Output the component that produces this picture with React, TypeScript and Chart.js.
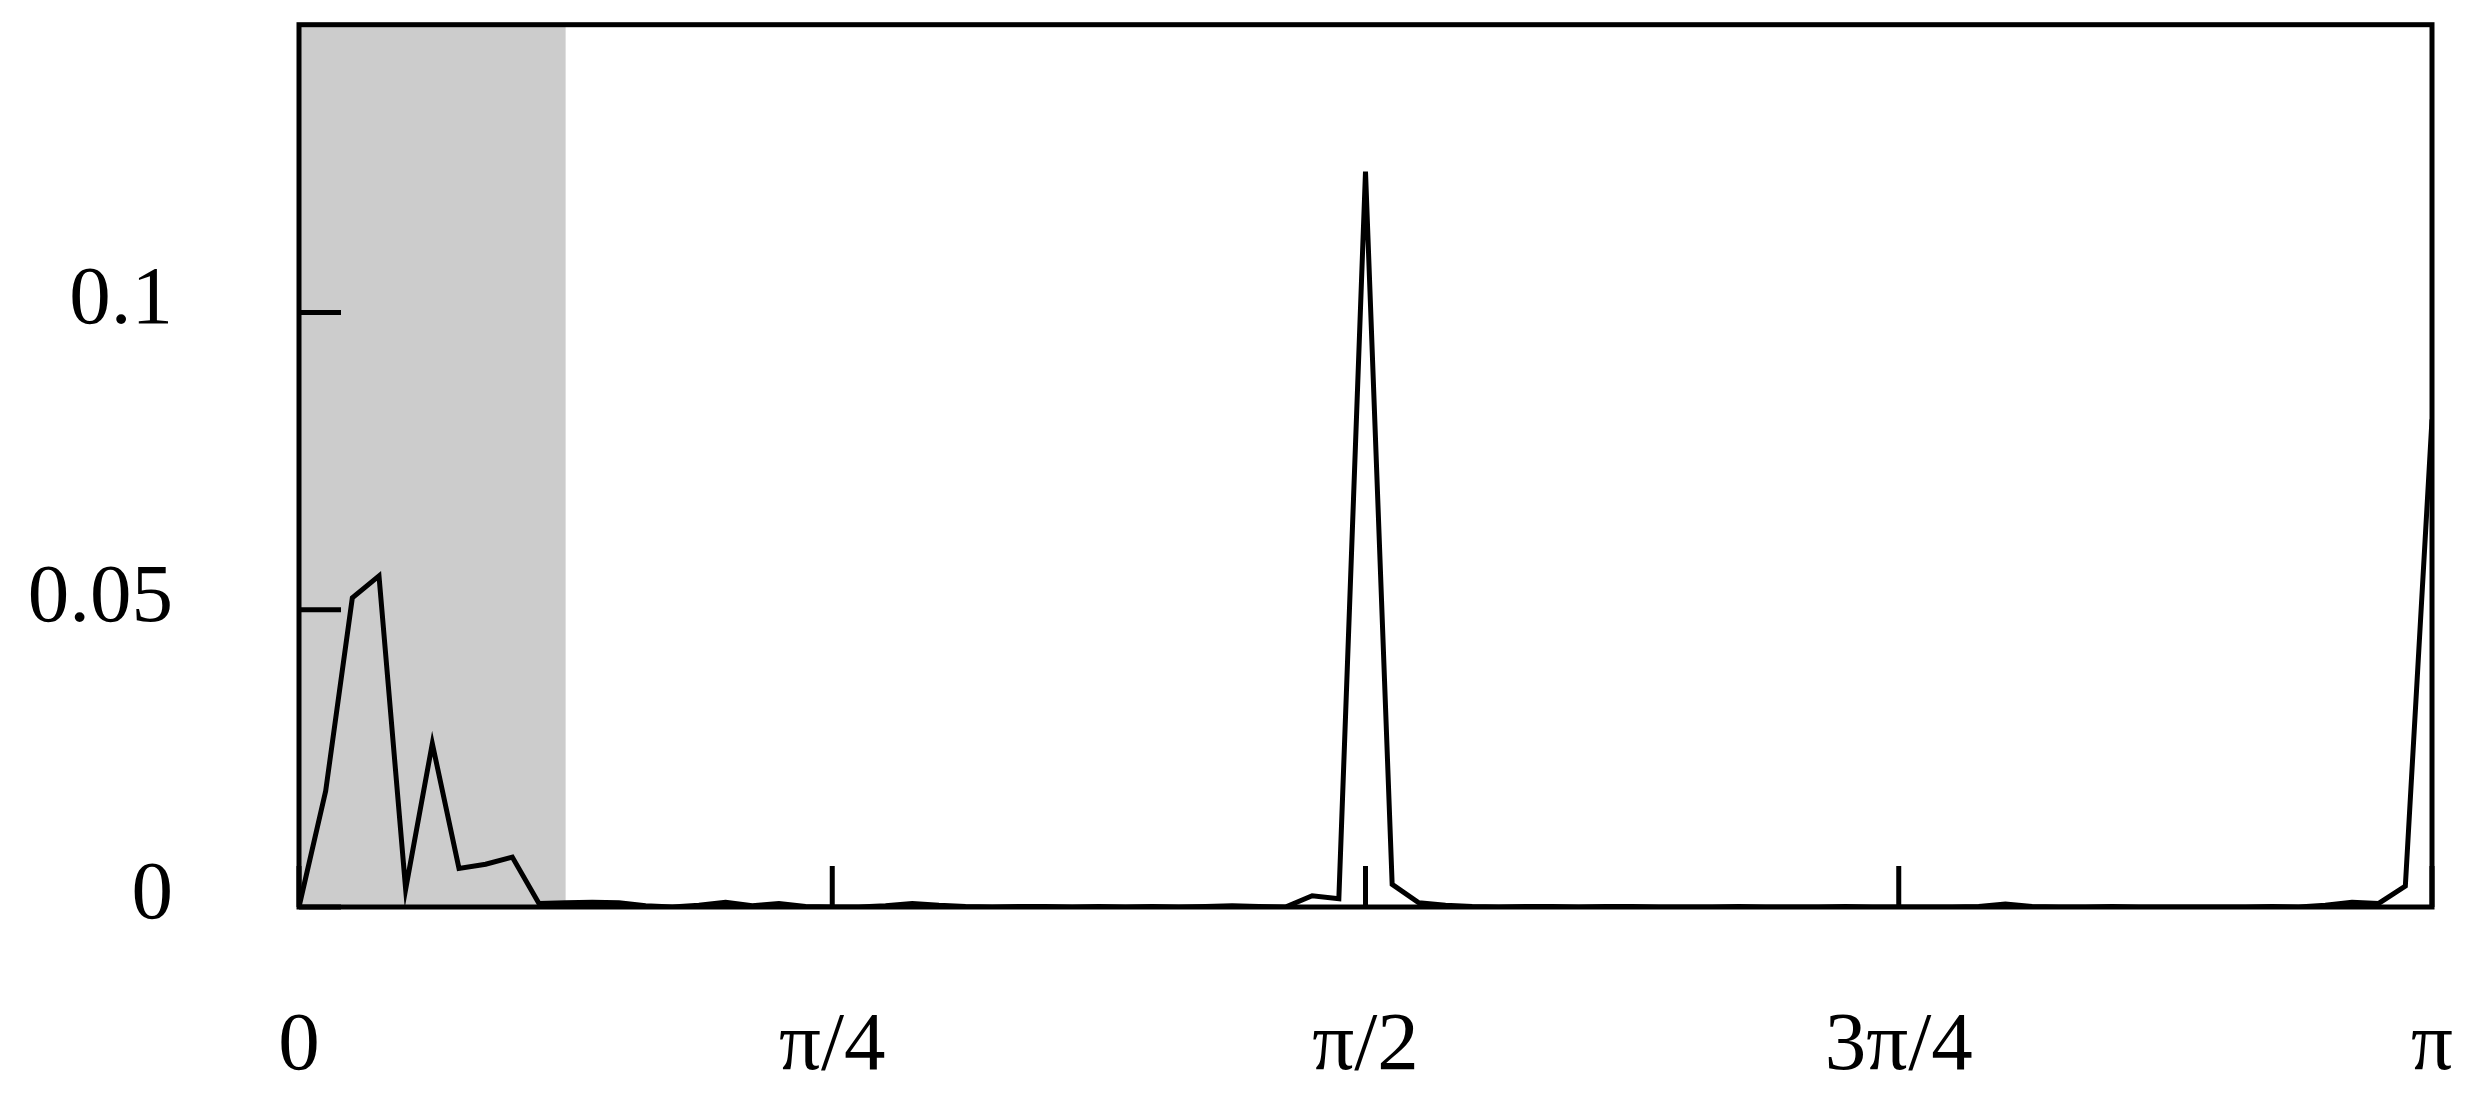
import React, { useEffect, useRef } from "react";
import { Chart, registerables } from "chart.js";

Chart.register(...registerables);

// Sample values (81 samples spanning 0 .. π)
const sampleValues = [
  0, 0.0195, 0.052, 0.0557, 0.003, 0.0275, 0.0065, 0.0072, 0.0084, 0.0006,
  0.0007, 0.0008, 0.0007, 0.0002, 0.0, 0.0003, 0.0008, 0.0002, 0.0006, 0.0001,
  0, 0, 0.0002, 0.0006, 0.0003, 0.0001, 0, 0.0001, 0.0001, 0,
  0.0001, 0, 0.0001, 0, 0.0001, 0.0002, 0.0001, 0, 0.0019, 0.0014,
  0.1237, 0.0038, 0.0007, 0.0003, 0.0001, 0, 0.0001, 0.0001, 0, 0.0001,
  0.0001, 0, 0, 0, 0.0001, 0, 0, 0, 0.0001, 0,
  0, 0, 0, 0.0001, 0.0005, 0.0001, 0, 0, 0.0001, 0,
  0, 0, 0, 0, 0.0001, 0, 0.0003, 0.0008, 0.0006, 0.0035,
  0.082,
];

const xTickIndices = [0, 20, 40, 60, 80];
const xTickLabels = ["0", "π/4", "π/2", "3π/4", "π"];
const yTickValues = [0, 0.05, 0.1];
const yTickLabels = ["0", "0.05", "0.1"];
const xMinIndex = 0;
const xMaxIndex = 80;
const yMin = 0;
const yMax = 0.1484;
const shadeStartIndex = 0;
const shadeEndIndex = 10;

const FONT_FAMILY = "'Liberation Serif', 'Times New Roman', Times, serif";

export default function App() {
  const ref = useRef<HTMLCanvasElement | null>(null);

  useEffect(() => {
    document.body.style.margin = "0";
    const canvas = ref.current;
    if (!canvas) return;

    const framePlugin = {
      id: "frameAndShade",
      beforeDatasetsDraw(chart: any) {
        const { ctx, chartArea: a, scales } = chart;
        const x0 = scales.x.getPixelForValue(shadeStartIndex);
        const x1 = scales.x.getPixelForValue(shadeEndIndex);
        ctx.save();
        ctx.fillStyle = "#cccccc";
        ctx.fillRect(x0, a.top, x1 - x0, a.bottom - a.top);
        ctx.restore();
      },
      afterDatasetsDraw(chart: any) {
        const { ctx, chartArea: a, scales } = chart;
        ctx.save();
        ctx.strokeStyle = "#000";
        ctx.lineWidth = 5;
        ctx.lineCap = "butt";
        ctx.beginPath();
        xTickIndices.forEach((v) => {
          const px = scales.x.getPixelForValue(v);
          ctx.moveTo(px, a.bottom);
          ctx.lineTo(px, a.bottom - 41);
        });
        yTickValues.forEach((v) => {
          const py = scales.y.getPixelForValue(v);
          ctx.moveTo(a.left, py);
          ctx.lineTo(a.left + 42, py);
        });
        ctx.stroke();
        ctx.lineJoin = "miter";
        ctx.strokeRect(a.left, a.top, a.right - a.left, a.bottom - a.top);
        ctx.restore();
      },
    };

    const chart = new Chart(canvas, {
      type: "line",
      data: {
        datasets: [
          {
            data: sampleValues.map((v, i) => ({ x: i, y: v })),
            borderColor: "#000000",
            borderWidth: 5,
            pointRadius: 0,
            tension: 0,
            fill: false,
            borderJoinStyle: "miter",
          },
        ],
      },
      options: {
        responsive: false,
        animation: false,
        devicePixelRatio: 1,
        layout: { padding: { left: 0, top: 24.7, right: 47, bottom: 0 } },
        plugins: {
          legend: { display: false },
          tooltip: { enabled: false },
        },
        scales: {
          x: {
            type: "linear",
            min: xMinIndex,
            max: xMaxIndex,
            grid: { display: false, drawTicks: false },
            border: { display: false },
            afterBuildTicks: (s: any) => {
              s.ticks = xTickIndices.map((v) => ({ value: v }));
            },
            afterFit: (s: any) => {
              s.height = 205;
              s.paddingLeft = 0;
              s.paddingRight = 0;
            },
            ticks: {
              autoSkip: false,
              maxRotation: 0,
              minRotation: 0,
              padding: 90,
              color: "#000000",
              font: { family: FONT_FAMILY, size: 83 },
              callback: (v: any) => {
                const k = xTickIndices.indexOf(Number(v));
                return k >= 0 ? xTickLabels[k] : "";
              },
            },
          },
          y: {
            type: "linear",
            min: yMin,
            max: yMax,
            grid: { display: false, drawTicks: false },
            border: { display: false },
            afterBuildTicks: (s: any) => {
              s.ticks = yTickValues.map((v) => ({ value: v }));
            },
            afterFit: (s: any) => {
              s.width = 299;
              s.paddingTop = 0;
              s.paddingBottom = 0;
            },
            ticks: {
              padding: 126,
              labelOffset: -11,
              color: "#000000",
              font: { family: FONT_FAMILY, size: 83 },
              callback: (v: any) => {
                const k = yTickValues.indexOf(Number(v));
                return k >= 0 ? yTickLabels[k] : "";
              },
            },
          },
        },
      },
      plugins: [framePlugin],
    } as any);

    return () => chart.destroy();
  }, []);

  return (
    <div style={{ width: 2479, height: 1112, background: "#ffffff" }}>
      <canvas ref={ref} width={2479} height={1112} style={{ display: "block" }} />
    </div>
  );
}
